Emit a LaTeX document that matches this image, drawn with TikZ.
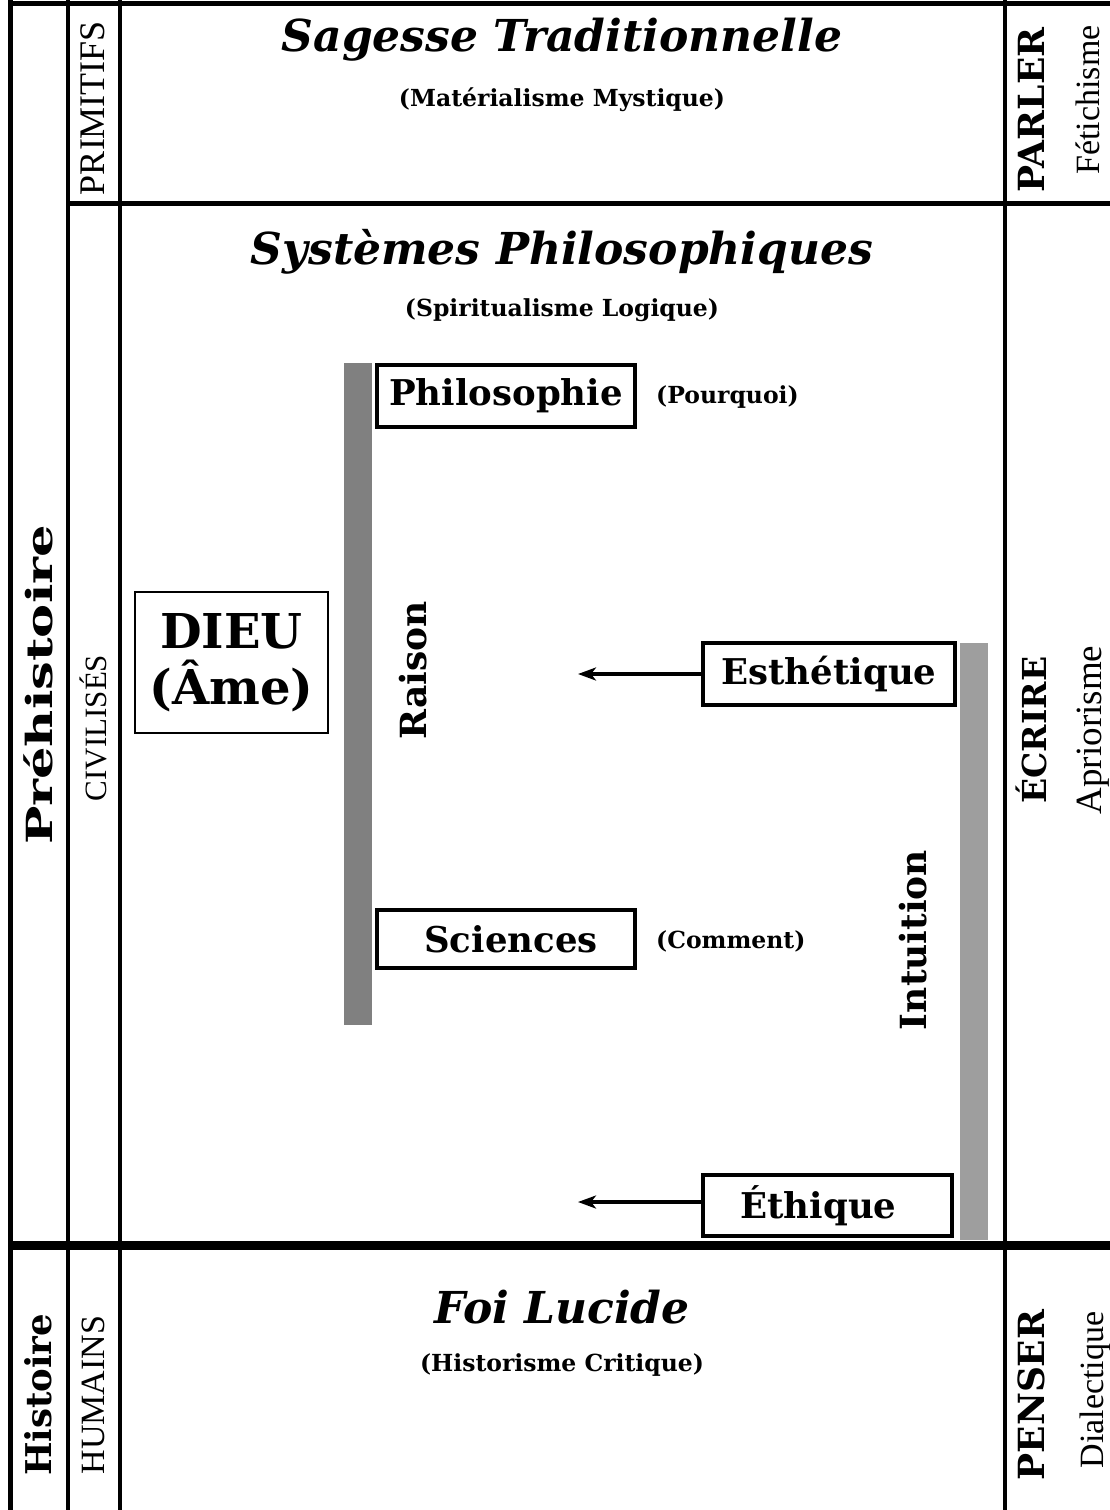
\documentclass[tikz,border=0pt]{standalone}
\usepackage{fontspec}
\setmainfont{DejaVu Serif}
\newfontfamily\tms{Liberation Serif}
\usetikzlibrary{arrows.meta}
\definecolor{barA}{rgb}{0.50,0.50,0.50}
\definecolor{barB}{rgb}{0.62,0.62,0.62}
\begin{document}
\begin{tikzpicture}[x=1pt,y=-1pt,
  title/.style={font=\fontsize{44}{48}\selectfont\bfseries\itshape, inner sep=0pt},
  sub/.style={font=\fontsize{23.5}{26}\selectfont\bfseries, inner sep=0pt},
  boxed/.style={draw, line width=4pt, inner sep=0pt, font=\fontsize{35.5}{38}\selectfont\bfseries},
  bar/.style={inner sep=0pt, minimum width=28pt},
  vbold/.style={rotate=90, inner sep=0pt, font=\fontsize{#1}{#1}\selectfont\bfseries},
  vreg/.style={rotate=90, inner sep=0pt, font=\tms\fontsize{#1}{#1}\selectfont},
  arr/.style={line width=3.5pt, -{Stealth[length=18pt,width=13pt,inset=5pt]}},
  rule/.style={line width=#1}
]
\useasboundingbox (0,0) rectangle (1110,1510);
% frame lines
\draw[rule=5pt] (10,0) -- (10,1510);
\draw[rule=5pt] (8,3) -- (1110,3);
\draw[rule=4pt] (68,0) -- (68,1510);
\draw[rule=4pt] (120,0) -- (120,1510);
\draw[rule=4pt] (1005,0) -- (1005,1510);
\draw[rule=5pt] (68,203) -- (1110,203);
\draw[rule=9pt] (10,1245) -- (1110,1245);

% left columns
\node[vbold=36] (prehist) at (38,685) {\scalebox{1.42}[1]{Préhistoire}};
\node[vbold=35.5] (hist) at (38,1395) {Histoire};
\node[vreg=36] (prim) at (93,108) {PRIMITIFS};
\node[vreg=31] (civ) at (93,728) {CIVILISÉS};
\node[vreg=34] (hum) at (93,1395) {HUMAINS};

% right columns
\node[vbold=36] (parler) at (1031,110) {PARLER};
\node[vreg=34] (fet) at (1088,100) {Fétichisme};
\node[vbold=33] (ecrire) at (1031,730) {ÉCRIRE};
\node[vreg=37] (aprio) at (1093,730) {Apriorisme};
\node[vbold=36] (penser) at (1031,1395) {PENSER};
\node[vreg=34] (dial) at (1095,1390) {Dialectique};

% titles
\node[title] (sagesse) at (562,40) {Sagesse Traditionnelle};
\node[sub] (matmys) at (562,100) {(Matérialisme Mystique)};
\node[title] (systemes) at (562,252) {Systèmes Philosophiques};
\node[sub] (spilog) at (562,310) {(Spiritualisme Logique)};
\node[title] (foi) at (562,1307) {Foi Lucide};
\node[sub] (hiscrit) at (562,1365) {(Historisme Critique)};

% bars
\node[bar, fill=barA, minimum height=662pt] (raisonbar) at (358,694) {};
\node[bar, fill=barB, minimum height=597pt] (intbar) at (974,941.5) {};
\node[vbold=36] (raison) at (413,670) {Raison};
\node[vbold=36] (intuition) at (913,940) {Intuition};

% boxes
\node[boxed, minimum width=258pt, minimum height=62pt] (philo) at (506,396) {Philosophie};
\node[sub, anchor=west] (pourquoi) at (656,397) {(Pourquoi)};
\node[boxed, minimum width=258pt, minimum height=58pt] (sci) at (506,939) {\hspace*{10pt}Sciences};
\node[sub, anchor=west] (comment) at (656,941) {(Comment)};
\node[boxed, minimum width=252pt, minimum height=62pt] (esth) at (829,674) {Esthétique};
\node[boxed, minimum width=249pt, minimum height=61pt] (ethi) at (827.5,1205.5) {\raisebox{-6pt}{Éthique}\hspace*{18pt}};
\node[draw, line width=2.5pt, inner sep=0pt, minimum width=193pt, minimum height=141pt,
      align=center, font=\fontsize{48}{56}\selectfont\bfseries] (dieu) at (231.5,662.5) {DIEU\\(Âme)};

% arrows
\coordinate (esthend) at (578,674);
\coordinate (ethiend) at (578,1202);
\draw[arr] (esth.west) -- (esthend);
\draw[arr] (ethi.west |- ethiend) -- (ethiend);
\end{tikzpicture}
\end{document}
